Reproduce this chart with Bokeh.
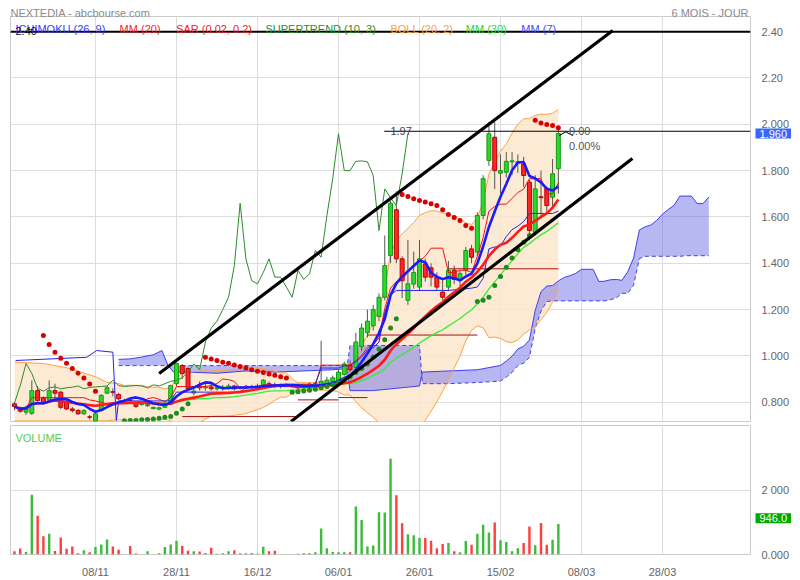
import numpy as np
import pandas as pd
from bokeh.plotting import figure
from bokeh.layouts import column
from bokeh.models import Range1d, FixedTicker, Label
from bokeh.core.properties import value
from bokeh.embed import file_html
from bokeh.resources import INLINE

# ---------------- data ----------------
opens = [0.793, 0.771, 0.757, 0.752, 0.850, 0.819, 0.810, 0.850, 0.843, 0.800,
         0.771, 0.764, 0.750, 0.737, 0.718, 0.764, 0.839, 0.845, 0.833, 0.805,
         0.809, 0.796, 0.790, 0.785, 0.772, 0.770, 0.778, 0.793, 0.880, 0.958,
         0.945, 0.840, 0.868, 0.862, 0.866, 0.858, 0.860, 0.862, 0.870, 0.860,
         0.860, 0.865, 0.862, 0.865, 0.880, 0.875, 0.870, 0.872, 0.870, 0.872,
         0.862, 0.878, 0.872, 0.875, 0.880, 0.890, 0.895, 0.920, 0.960, 0.950,
         1.040, 1.100, 1.130, 1.170, 1.253, 1.433, 1.631, 1.419, 1.240, 1.310,
         1.297, 1.397, 1.380, 1.340, 1.275, 1.297, 1.370, 1.325, 1.369, 1.462,
         1.448, 1.606, 1.844, 1.944, 1.789, 1.793, 1.838, 1.834, 1.829, 1.750,
         1.534, 1.687, 1.721, 1.685, 1.808]
highs = [0.800, 0.780, 0.785, 0.894, 0.870, 0.825, 0.894, 0.880, 0.850, 0.810,
         0.780, 0.770, 0.770, 0.745, 0.755, 0.835, 0.870, 0.860, 0.840, 0.815,
         0.820, 0.800, 0.800, 0.795, 0.780, 0.780, 0.800, 0.875, 0.970, 0.965,
         0.950, 0.870, 0.890, 0.880, 0.880, 0.870, 0.875, 0.880, 0.875, 0.870,
         0.875, 0.875, 0.880, 0.900, 0.890, 0.885, 0.880, 0.880, 0.875, 0.880,
         0.880, 0.885, 0.890, 1.065, 0.910, 0.915, 0.940, 0.975, 0.980, 1.100,
         1.140, 1.200, 1.220, 1.270, 1.520, 1.670, 1.710, 1.430, 1.500, 1.450,
         1.500, 1.420, 1.400, 1.360, 1.330, 1.410, 1.390, 1.370, 1.470, 1.480,
         1.620, 1.780, 2.010, 2.010, 1.870, 1.880, 1.880, 1.870, 1.860, 1.760,
         1.780, 1.800, 1.730, 1.850, 1.975]
lows = [0.765, 0.755, 0.745, 0.745, 0.800, 0.790, 0.805, 0.815, 0.770, 0.765,
        0.755, 0.745, 0.745, 0.725, 0.717, 0.760, 0.835, 0.825, 0.810, 0.800,
        0.795, 0.775, 0.785, 0.780, 0.770, 0.765, 0.775, 0.790, 0.870, 0.900,
        0.850, 0.830, 0.850, 0.850, 0.850, 0.850, 0.850, 0.855, 0.850, 0.855,
        0.855, 0.860, 0.855, 0.860, 0.865, 0.860, 0.860, 0.865, 0.865, 0.855,
        0.855, 0.860, 0.865, 0.870, 0.875, 0.885, 0.890, 0.915, 0.930, 0.940,
        1.020, 1.080, 1.110, 1.150, 1.240, 1.400, 1.400, 1.250, 1.220, 1.290,
        1.280, 1.320, 1.300, 1.280, 1.240, 1.280, 1.310, 1.300, 1.350, 1.400,
        1.430, 1.590, 1.820, 1.720, 1.700, 1.770, 1.780, 1.790, 1.730, 1.520,
        1.520, 1.600, 1.620, 1.640, 1.700]
closes = [0.781, 0.761, 0.778, 0.850, 0.807, 0.796, 0.850, 0.839, 0.778, 0.771,
          0.764, 0.750, 0.764, 0.735, 0.750, 0.829, 0.862, 0.843, 0.815, 0.807,
          0.807, 0.782, 0.791, 0.790, 0.778, 0.776, 0.796, 0.872, 0.967, 0.924,
          0.859, 0.848, 0.862, 0.866, 0.858, 0.862, 0.865, 0.870, 0.858, 0.864,
          0.866, 0.868, 0.870, 0.895, 0.872, 0.868, 0.870, 0.872, 0.870, 0.862,
          0.875, 0.870, 0.880, 0.890, 0.895, 0.905, 0.930, 0.965, 0.940, 1.060,
          1.120, 1.150, 1.200, 1.253, 1.390, 1.659, 1.419, 1.325, 1.311, 1.360,
          1.419, 1.340, 1.340, 1.297, 1.253, 1.369, 1.330, 1.355, 1.455, 1.426,
          1.606, 1.765, 1.959, 1.800, 1.800, 1.840, 1.842, 1.838, 1.779, 1.541,
          1.721, 1.683, 1.649, 1.786, 1.960]
volumes = [100, 188, 80, 1850, 1200, 565, 645, 110, 525, 180,
           250, 40, 130, 70, 230, 310, 465, 250, 150, 10,
           260, 30, 10, 100, 10, 40, 230, 310, 425, 260,
           120, 100, 90, 50, 210, 20, 40, 100, 130, 40,
           40, 50, 20, 240, 100, 120, 5, 5, 10, 20,
           40, 40, 70, 810, 190, 80, 70, 70, 70, 1485,
           1070, 250, 280, 1310, 1300, 2970, 1840, 970, 625, 595,
           515, 515, 425, 190, 325, 355, 100, 70, 415, 305,
           645, 920, 685, 990, 445, 385, 100, 190, 355, 870,
           285, 980, 305, 455, 946]

date_tick_bars = [14, 28, 42, 56, 70, 84, 98, 112]
date_tick_labels = ["08/11", "28/11", "16/12", "06/01", "26/01", "15/02", "08/03", "28/03"]
price_ticks = [0.8, 1.0, 1.2, 1.4, 1.6, 1.8, 2.0, 2.2, 2.4]
price_tick_labels = ["0.800", "1.000", "1.200", "1.400", "1.600", "1.800", "2.000", "2.20", "2.40"]
volume_ticks = [0, 2000]
volume_tick_labels = ["0.000", "2 000"]

# SAR dots (red above price, green below price)
sar_red_bars = [5, 6, 7, 8, 9, 10, 11, 12, 13, 14,
                33, 34, 35, 36, 37, 38, 39, 40, 41, 42, 43, 44, 45, 46, 47,
                67, 68, 69, 70, 71, 72, 73, 74, 75, 76, 77, 78, 79,
                90, 91, 92, 93, 94]
sar_red_values = [1.088, 1.049, 1.016, 0.990, 0.968, 0.946, 0.925, 0.904, 0.879, 0.847,
                  0.994, 0.987, 0.980, 0.973, 0.968, 0.961, 0.954, 0.948, 0.940, 0.934,
                  0.928, 0.922, 0.916, 0.910, 0.905,
                  1.697, 1.688, 1.678, 1.671, 1.664, 1.657, 1.649, 1.631, 1.610, 1.598,
                  1.585, 1.563, 1.551,
                  2.017, 2.006, 1.999, 1.995, 1.985]
sar_green_bars = [19, 20, 21, 22, 23, 24, 25, 26, 27, 28, 29, 30,
                  48, 49, 50, 51, 52, 53, 54, 55, 56, 57, 58, 59, 60, 61, 62, 63, 64, 65, 66,
                  80, 81, 82, 83, 84, 85, 86, 87, 88, 89]
sar_green_values = [0.720, 0.721, 0.721, 0.724, 0.725, 0.728,
                    0.731, 0.735, 0.738, 0.752, 0.771, 0.793,
                    0.843, 0.845, 0.848, 0.852, 0.856, 0.862, 0.868, 0.875, 0.885, 0.897,
                    0.910, 0.928, 0.945, 0.965, 0.995, 1.030, 1.070, 1.120, 1.160,
                    1.235, 1.240, 1.253, 1.304, 1.343, 1.383, 1.423, 1.458, 1.491, 1.520]

# Supertrend (10, 3) steps
st_start_bars = [29, 49, 56, 61, 75]
st_end_bars = [49, 56, 61, 80, 94]
st_values = [0.738, 0.810, 0.820, 1.090, 1.376]

# indicator parts that depend on history before the window
kijun_early_bars = [0.2, 12.5, 14.2, 17.0, 17.6]
kijun_early_values = [0.980, 0.994, 1.023, 1.016, 0.721]
cloud_early_bars = [18, 20, 22, 24, 25.5, 26.5, 27.5, 30, 35, 40, 45, 50, 55, 57.5,
                    58, 62, 66, 70, 70.5, 75, 80]
cloud_early_a = [0.985, 0.987, 0.995, 1.005, 1.023, 0.960, 0.930, 0.930, 0.925, 0.935,
                 0.930, 0.935, 0.940, 0.945, 0.850, 0.850, 0.860, 0.870, 0.930, 0.935, 0.940]
cloud_early_b = [0.958, 0.958, 0.958, 0.958, 0.958, 0.958, 0.958, 0.958, 0.958, 0.958,
                 0.958, 0.958, 0.958, 0.958, 1.045, 1.045, 1.045, 1.045, 0.880, 0.880, 0.885]
boll_early_bars = [0, 5, 9.6, 14.2, 15.9, 18.2]
boll_early_up = [0.973, 0.967, 0.946, 0.908, 0.886, 0.879]
boll_early_dn = [0.719, 0.719, 0.719, 0.719, 0.720, 0.724]

# hand-drawn objects
trend_upper_bars = [25.0, 103.4]
trend_upper_prices = [0.924, 2.405]
trend_lower_bars = [47.8, 106.8]
trend_lower_prices = [0.717, 1.852]
level_top = 2.40
level_mid = 1.97
level_mid_start_bar = 63.9
hook_bars = [94.1, 95.3, 96.5]
hook_prices = [1.951, 1.967, 1.951]

legend_texts = ["ICHIMOKU (26, 9)", "MM (20)", "SAR (0.02, 0.2)", "SUPERTREND (10, 3)",
                "BOLL (20, 2)", "MM (30)", "MM (7)"]
legend_colors = ["#3a3aff", "#ff2020", "#ee2020", "#1f8f1f", "#ffa040", "#22dd22", "#4a4aff"]

# ---------------- indicators ----------------
n = len(closes)
bars = np.arange(n)
c = pd.Series(closes)
h = pd.Series(highs)
l = pd.Series(lows)
mm7 = c.rolling(7, min_periods=1).mean()
mm20 = c.rolling(20, min_periods=1).mean()
mm30 = c.rolling(30, min_periods=1).mean()
sd20 = c.rolling(20).std(ddof=0)
boll_up = mm20 + 2 * sd20
boll_dn = mm20 - 2 * sd20
boll_x = list(boll_early_bars) + list(range(19, n))
boll_hi = list(boll_early_up) + list(boll_up[19:])
boll_lo = list(boll_early_dn) + list(boll_dn[19:])

tenkan = (h.rolling(9, min_periods=1).max() + l.rolling(9, min_periods=1).min()) / 2
kijun = (h.rolling(26, min_periods=1).max() + l.rolling(26, min_periods=1).min()) / 2
senkou_a = (tenkan + kijun) / 2
senkou_b = (h.rolling(52, min_periods=1).max() + l.rolling(52, min_periods=1).min()) / 2

shift = 26
first_full = 58
cloud_x = list(cloud_early_bars) + [i + shift for i in range(first_full, n)]
cloud_a = list(cloud_early_a) + list(senkou_a[first_full:])
cloud_b = list(cloud_early_b) + list(senkou_b[first_full:])
kijun_x = list(kijun_early_bars) + list(range(18, n))
kijun_y = list(kijun_early_values) + list(kijun[18:])
chikou_x = [i - shift for i in range(shift, n)]
chikou_y = closes[shift:]

up = [cl >= op for op, cl in zip(opens, closes)]

# ---------------- layout geometry (page has no margin) ----------------
BAR_PX = 5.833
FRAME_W = 746
X0 = (10 - 14) / BAR_PX
X1 = X0 + FRAME_W / BAR_PX
PX_PER_UNIT = 231.6
Y0 = 0.8 - (421 - 401.7) / PX_PER_UNIT
Y1 = 0.8 + (401.7 - 16) / PX_PER_UNIT
VMAX = 4000
EPS = 1e-4


def px_x(px):
    return X0 + (px - 10) / BAR_PX


def px_y(py):
    return Y1 - (py - 16) / PX_PER_UNIT


def vol_y(py):
    return VMAX - (py - 425) * VMAX / 134


FONT = "Liberation Sans"


def add_text(fig, text, x, y, color, size="11px", align="left", baseline="alphabetic"):
    fig.add_layout(Label(x=x, y=y, text=text, text_color=color, text_font=FONT,
                         text_font_size=size, text_align=align, text_baseline=baseline))


def outer_text(fig, text, x, y, color, x_off=0, y_off=0, align="left",
               baseline="alphabetic", **kw):
    # text anchored inside the frame, pushed outside it in screen pixels
    r = fig.text(x=[x], y=[y], text=[text], x_offset=x_off, y_offset=y_off,
                 text_color=color, text_font=value(FONT), text_font_size="11px",
                 text_align=align, text_baseline=baseline, **kw)
    r.level = "overlay"
    return r


# ---------------- main price panel ----------------
p = figure(width=792, height=423, output_backend="svg", toolbar_location=None,
           x_range=Range1d(X0, X1), y_range=Range1d(Y0, Y1),
           x_axis_location=None, y_axis_location="right",
           min_border_left=10, min_border_right=36, min_border_top=16, min_border_bottom=2)
p.outline_line_color = "#cccccc"
p.background_fill_color = "white"
p.border_fill_color = "white"
p.xgrid.ticker = FixedTicker(ticks=date_tick_bars)
p.ygrid.ticker = FixedTicker(ticks=price_ticks)
p.xgrid.grid_line_color = "#dddddd"
p.ygrid.grid_line_color = "#dddddd"
ya = p.yaxis[0]
ya.ticker = FixedTicker(ticks=price_ticks)
ya.major_label_overrides = dict(zip(price_ticks, price_tick_labels))
ya.axis_line_color = None
ya.major_tick_line_color = None
ya.minor_tick_line_color = None
ya.major_label_standoff = 5
ya.major_label_text_font = FONT
ya.major_label_text_font_size = "11px"
ya.major_label_text_color = "#666666"

# Bollinger band fill
p.varea(x=boll_x, y1=boll_lo, y2=boll_hi, fill_color="#fde6cc", fill_alpha=0.85)
# Ichimoku cloud
p.varea(x=cloud_x, y1=cloud_a, y2=cloud_b, fill_color="#6f6fe8", fill_alpha=0.5)
p.line(cloud_x, cloud_a, line_color="#3f3fee", line_width=1)
p.line(cloud_x, cloud_b, line_color="#3f3fee", line_width=1, line_dash="4 3")
# Bollinger lines
p.line(boll_x, boll_hi, line_color="#ffa040", line_width=1)
p.line(boll_x, boll_lo, line_color="#ffa040", line_width=1)

# candles
p.segment(x0=bars, y0=lows, x1=bars, y1=highs, line_color="#555555", line_width=1)
body_top = [max(o, cc) for o, cc in zip(opens, closes)]
body_bot = [min(o, cc) for o, cc in zip(opens, closes)]
p.vbar(x=bars, top=body_top, bottom=body_bot, width=0.68,
       fill_color=["#2fd62f" if u else "#ff2626" for u in up],
       line_color=["#139913" if u else "#b80000" for u in up], line_width=1)

# Supertrend steps
p.segment(x0=st_start_bars, y0=st_values, x1=st_end_bars, y1=st_values,
          line_color="#a81010", line_width=1)
# Ichimoku lines
p.line(bars, tenkan, line_color="#ee1111", line_width=1)
p.line(kijun_x, kijun_y, line_color="#2323ee", line_width=1)
p.line(chikou_x, chikou_y, line_color="#2a8c2a", line_width=1)
# moving averages
p.line(bars, mm30, line_color="#33ee33", line_width=1.3)
p.line(bars, mm20, line_color="#ff1a1a", line_width=2.6)
p.line(bars, mm7, line_color="#1a1aff", line_width=2.6)
# SAR
p.scatter(sar_red_bars, sar_red_values, size=5, fill_color="#d80000", line_color=None)
p.scatter(sar_green_bars, sar_green_values, size=5, fill_color="#1f8a1f", line_color=None)
# drawings
p.line(trend_upper_bars, trend_upper_prices, line_color="black", line_width=3.2)
p.line(trend_lower_bars, trend_lower_prices, line_color="black", line_width=3.2)
p.line([X0, X1], [level_top, level_top], line_color="black", line_width=2)
p.line([level_mid_start_bar, X1], [level_mid, level_mid], line_color="black", line_width=1.2)
p.line(hook_bars, hook_prices, line_color="black", line_width=1)

# texts inside the frame
legend_px = [15, 120, 177, 267, 393, 469, 525]
for t, col, xx in zip(legend_texts, legend_colors, legend_px):
    add_text(p, t, px_x(xx), px_y(28.7), col)
add_text(p, "2.40", px_x(15), px_y(30), "#111111")
add_text(p, "1.97", px_x(393), px_y(130), "#444444")
add_text(p, "0.00", px_x(573), px_y(130), "#555555")
add_text(p, "0.00%", px_x(573), px_y(145), "#555555")

# texts outside the frame
outer_text(p, "NEXTEDIA - abcbourse.com", X0 + EPS, Y1 - EPS, "#8a8a8a", y_off=-3.3)
outer_text(p, "6 MOIS - JOUR", px_x(754), Y1 - EPS, "#8a8a8a", y_off=-3.3, align="right")
outer_text(p, "%.3f" % closes[-1], X1 - EPS, closes[-1], "white", x_off=5,
           baseline="middle", background_fill_color="#3a66ff",
           padding=dict(left=4, right=4, top=1, bottom=1))

# ---------------- volume panel ----------------
v = figure(width=792, height=157, output_backend="svg", toolbar_location=None,
           x_range=p.x_range, y_range=Range1d(0, VMAX), y_axis_location="right",
           min_border_left=10, min_border_right=36, min_border_top=2, min_border_bottom=21)
v.outline_line_color = "#cccccc"
v.background_fill_color = "white"
v.border_fill_color = "white"
v.xgrid.ticker = FixedTicker(ticks=date_tick_bars)
v.ygrid.ticker = FixedTicker(ticks=[2000])
v.xgrid.grid_line_color = "#dddddd"
v.ygrid.grid_line_color = "#dddddd"
va = v.yaxis[0]
va.ticker = FixedTicker(ticks=volume_ticks)
va.major_label_overrides = dict(zip(volume_ticks, volume_tick_labels))
xa = v.xaxis[0]
xa.ticker = FixedTicker(ticks=date_tick_bars)
xa.major_label_overrides = dict(zip(date_tick_bars, date_tick_labels))
for ax in (va, xa):
    ax.axis_line_color = None
    ax.major_tick_line_color = None
    ax.minor_tick_line_color = None
    ax.major_label_standoff = 5
    ax.major_label_text_font = FONT
    ax.major_label_text_font_size = "11px"
    ax.major_label_text_color = "#666666"

v.vbar(x=bars, top=volumes, bottom=0, width=0.42,
       fill_color=["#3dbb3d" if u else "#ff4040" for u in up], line_color=None)
add_text(v, "VOLUME", px_x(15), vol_y(438.3), "#55cc55")
outer_text(v, "%.1f" % volumes[-1], X1 - EPS, vol_y(521.3), "white", x_off=5,
           baseline="middle", background_fill_color="#00a800",
           padding=dict(left=4, right=4, top=1, bottom=1))

layout = column(p, v, spacing=0)
open("out.html", "w").write(file_html(layout, INLINE))
